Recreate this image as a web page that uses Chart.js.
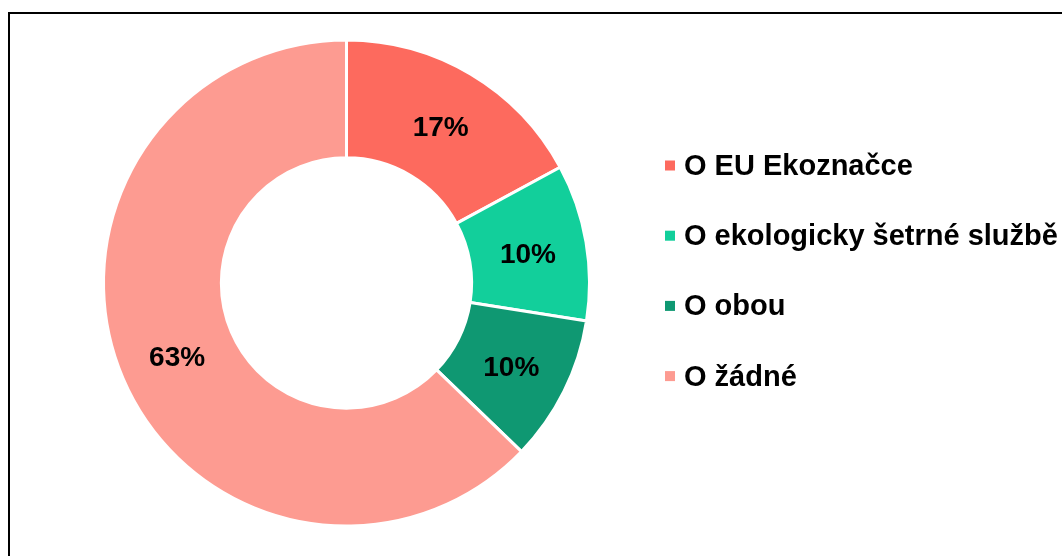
<!DOCTYPE html>
<html>
<head>
<meta charset="utf-8">
<script src="https://cdn.jsdelivr.net/npm/chart.js@4"></script>
<style>
  html, body { margin: 0; padding: 0; background: #fff; overflow: hidden; }
  #wrap { position: relative; width: 1062px; height: 556px; }
  #frame { position: absolute; left: 8px; top: 12px; width: 1200px; height: 700px; border: 2px solid #000; box-sizing: border-box; }
  canvas { position: absolute; left: 0; top: 0; }
</style>
</head>
<body>
<div id="wrap">
  <div id="frame"></div>
  <canvas id="donut" width="1062" height="556"></canvas>
</div>
<script>
  const categories = ['O EU Ekoznačce', 'O ekologicky šetrné službě', 'O obou', 'O žádné'];
  const shares = [17.1, 10.4, 9.7, 62.8];
  const shareLabels = ['17%', '10%', '10%', '63%'];
  const colors = ['#FD6A5E', '#12CF9B', '#0F9872', '#FD9B91'];

  const FONT = '"Liberation Sans", Arial, sans-serif';

  // percentage labels in the middle of each ring segment
  const sliceLabels = {
    id: 'sliceLabels',
    afterDatasetsDraw(chart) {
      const ctx = chart.ctx;
      const meta = chart.getDatasetMeta(0);
      ctx.save();
      ctx.font = 'bold 28px ' + FONT;
      ctx.fillStyle = '#000';
      ctx.textAlign = 'center';
      ctx.textBaseline = 'middle';
      meta.data.forEach((arc, i) => {
        const p = arc.tooltipPosition();
        ctx.fillText(shareLabels[i], p.x, p.y + 3);
      });
      ctx.restore();
    }
  };

  // legend on the right, drawn from the chart's own labels and colours
  const sideLegend = {
    id: 'sideLegend',
    afterDraw(chart) {
      const ctx = chart.ctx;
      const ds = chart.data.datasets[0];
      ctx.save();
      ctx.font = 'bold 29px ' + FONT;
      ctx.textBaseline = 'middle';
      chart.data.labels.forEach((lab, i) => {
        const y = 165.5 + i * 70.2;
        ctx.fillStyle = ds.backgroundColor[i];
        ctx.fillRect(665, y - 5, 10, 10);
        ctx.fillStyle = '#000';
        ctx.fillText(lab, 684, y + 1.5);
      });
      ctx.restore();
    }
  };

  const ctx = document.getElementById('donut').getContext('2d');
  const chart = new Chart(ctx, {
    type: 'doughnut',
    data: {
      labels: categories,
      datasets: [{
        data: shares,
        backgroundColor: colors,
        borderColor: '#fff',
        borderWidth: 3
      }]
    },
    options: {
      responsive: false,
      animation: false,
      cutout: '51.5%',
      layout: { padding: { left: 102, right: 471, top: 38, bottom: 28 } },
      plugins: {
        legend: { display: false },
        tooltip: { enabled: false }
      }
    },
    plugins: [sliceLabels, sideLegend]
  });
</script>
</body>
</html>
